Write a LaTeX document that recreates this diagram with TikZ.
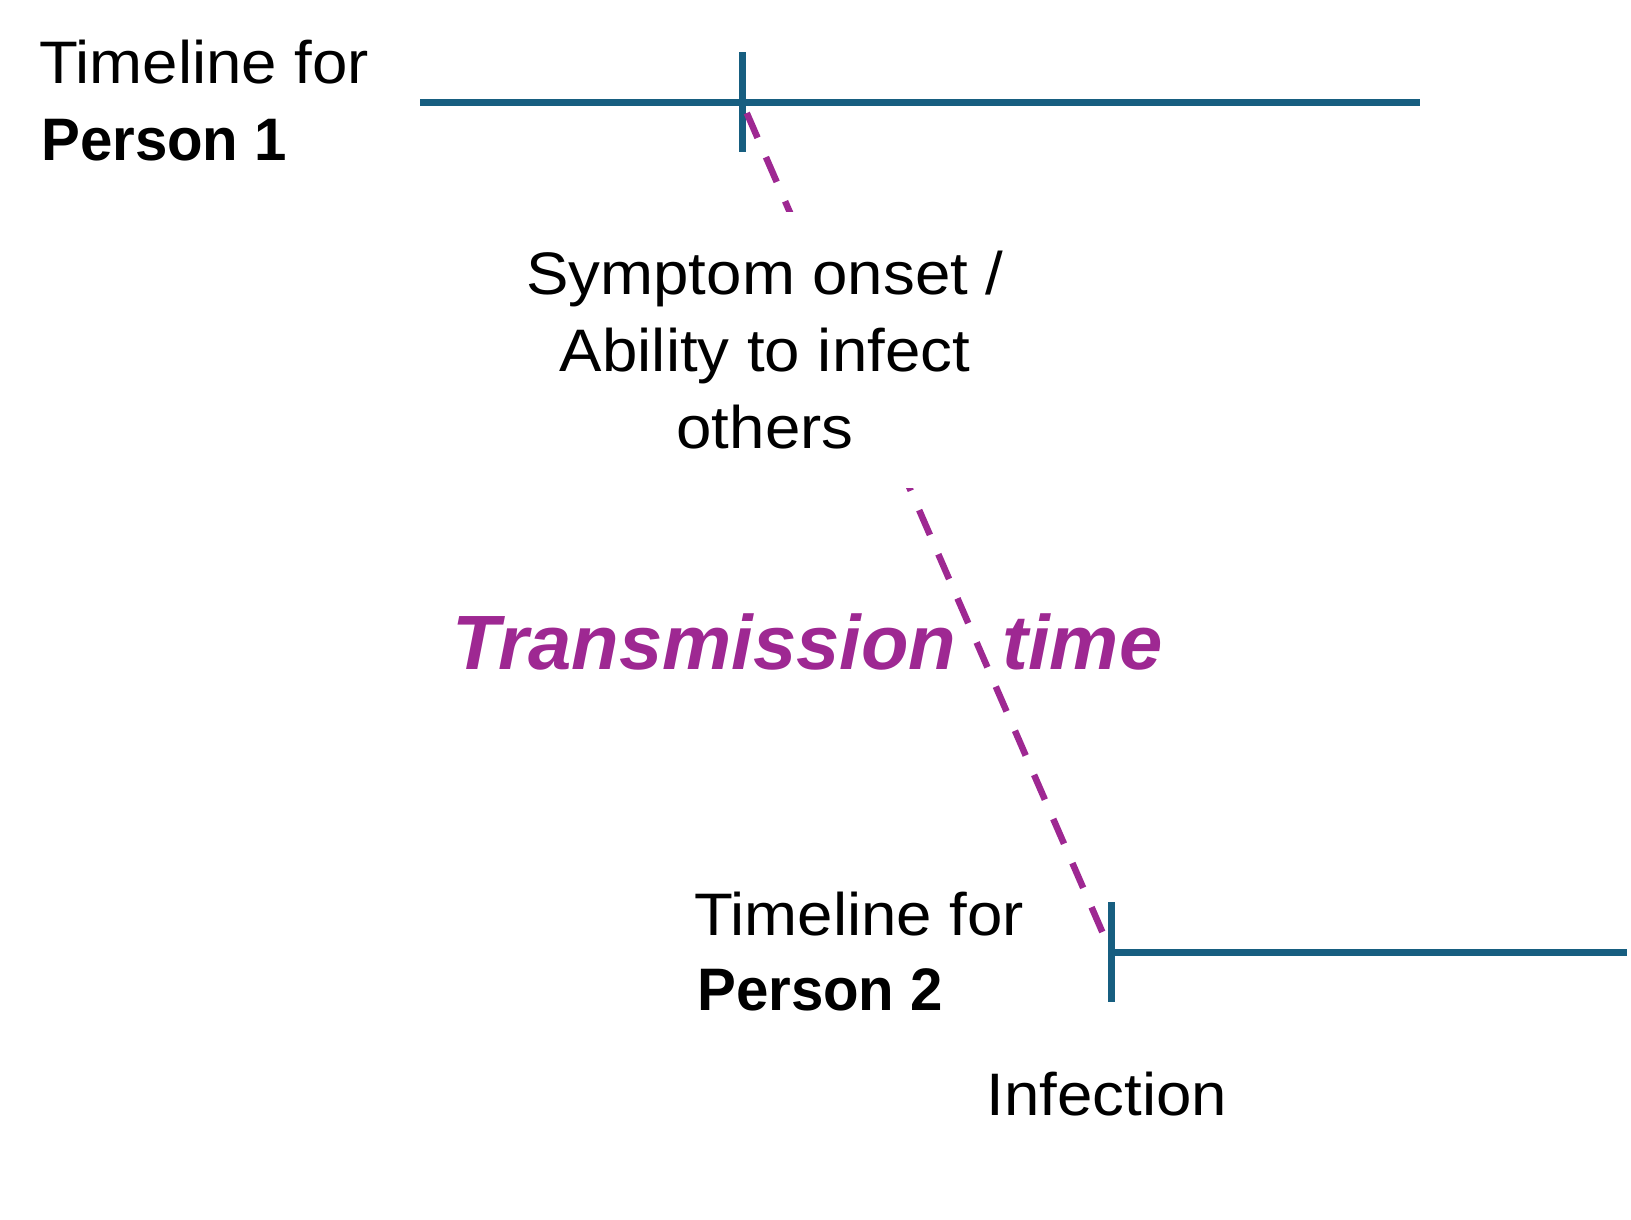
\documentclass[tikz,border=0pt]{standalone}
\usepackage{fontspec}
\setmainfont{Liberation Sans}[FakeStretch=1.06]
\newfontfamily\boldsans{Liberation Sans Bold}[FakeStretch=0.97]
\newfontfamily\bisans{Liberation Sans Bold Italic}[FakeStretch=1.01]
\definecolor{teal1}{RGB}{23,94,128}
\definecolor{purp}{RGB}{158,40,146}
\begin{document}
\begin{tikzpicture}[x=1pt,y=-1pt,
  tl/.style={draw=teal1,line width=7pt,line cap=butt},
  trans/.style={draw=purp,line width=6.5pt,line cap=butt,dash pattern=on 27pt off 21.1pt},
  lbl/.style={inner sep=0pt,font=\fontsize{60}{77}\selectfont,text=black},
  bl/.style={inner sep=0pt,font=\fontsize{60}{77}\selectfont\boldsans,text=black},
  big/.style={inner sep=0pt,font=\fontsize{77}{90}\selectfont\bisans,text=purp}]
\useasboundingbox (0,0) rectangle (1631,1219);
% timeline 1
\coordinate (a1) at (420,102);
\coordinate (a2) at (1420,102);
\coordinate (k1) at (742,102);
\coordinate (k1t) at (742,52);
\coordinate (k1b) at (742,152);
% timeline 2
\coordinate (k2) at (1111,952);
\coordinate (b2) at (1627,952);
\coordinate (k2t) at (1111,902);
\coordinate (k2b) at (1111,1002);
\draw[tl] (a1) -- (a2);
\draw[tl] (k1t) -- (k1b);
\draw[tl] (k2) -- (b2);
\draw[tl] (k2t) -- (k2b);
% transmission link
\draw[trans,shorten <=12pt,shorten >=21pt] (k1) -- (k2);
% labels
\node[lbl,anchor=base west] (p1a) at (39,83) {Timeline for};
\node[bl,anchor=base west] (p1b) at (41,160) {Person 1};
\node[lbl,fill=white,align=center,minimum width=480pt,minimum height=276pt] (sym) at (765,350) {Symptom onset /\\Ability to infect\\others};
\node[big,anchor=base west] (tt) at (452,669) {Transmission\hspace{46pt}time};
\node[lbl,anchor=base west] (p2a) at (694,935) {Timeline for};
\node[bl,anchor=base west] (p2b) at (697,1010) {Person 2};
\node[lbl,anchor=base] (inf) at (1107,1115) {Infection};
\end{tikzpicture}
\end{document}
